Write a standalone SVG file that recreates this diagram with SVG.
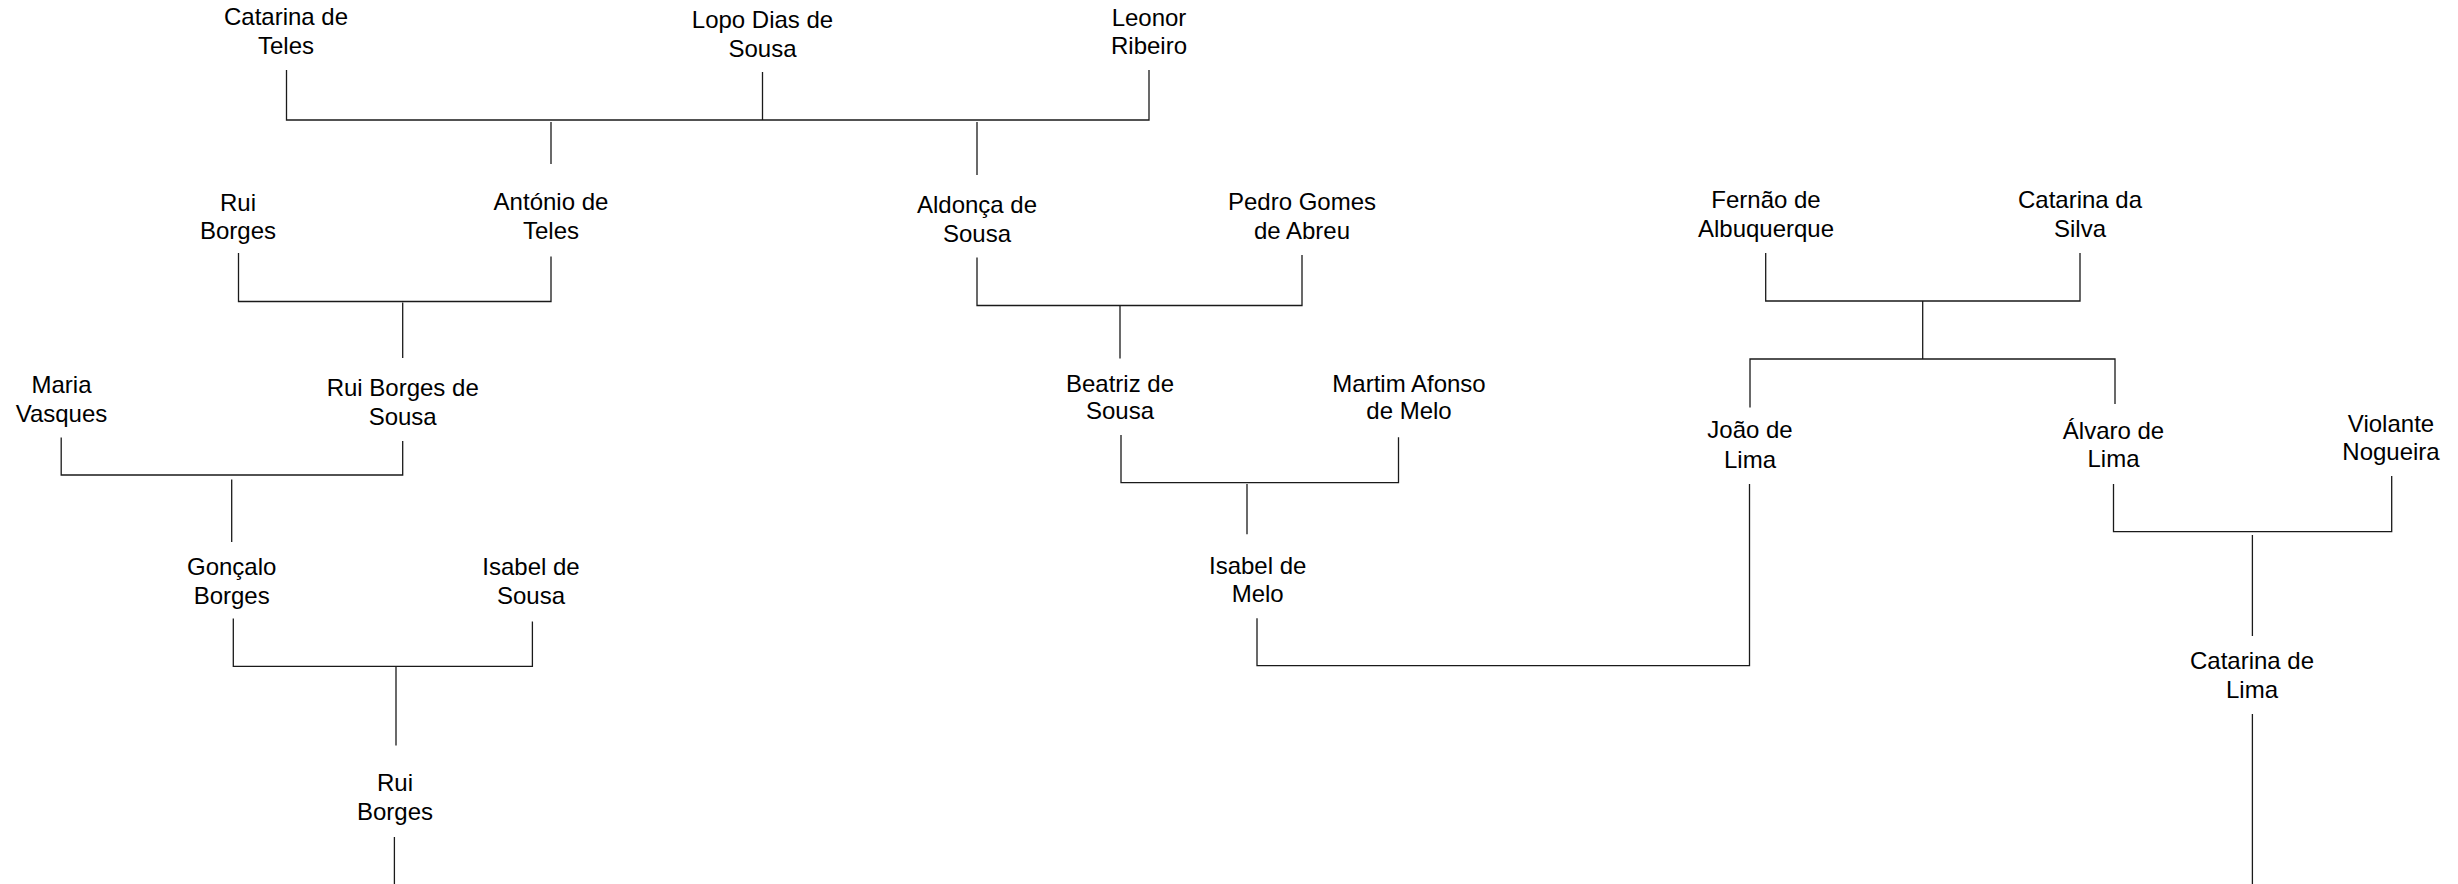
<svg xmlns="http://www.w3.org/2000/svg" width="2458" height="884" viewBox="0 0 2458 884">
<style>
text{font-family:"Liberation Sans",Arial,Helvetica,sans-serif;font-size:24px;fill:#000;text-anchor:middle}
.c path{fill:none;stroke:#1a1a1a;stroke-width:1.3}
</style>
<rect width="2458" height="884" fill="#fff"/>
<g class="c" id="connectors">
<path d="M286.5 70V120H1149V70"/>
<path d="M762.5 72V120"/>
<path d="M551 122V164"/>
<path d="M977 122V175"/>
<path d="M238.5 253V301.5H551V256.5"/>
<path d="M402.7 302.5V358"/>
<path d="M977 257.5V305.5H1302V255"/>
<path d="M1120 306V358.5"/>
<path d="M1765.7 253V301H2080V253"/>
<path d="M1922.7 301V359"/>
<path d="M1750 407.5V359H2115V404"/>
<path d="M61.2 437.5V475H402.7V441"/>
<path d="M231.7 479.5V542"/>
<path d="M1121 435V482.7H1398.5V437.3"/>
<path d="M1247 484V534.3"/>
<path d="M2113.5 484V531.7H2391.7V476"/>
<path d="M2252.4 535V636"/>
<path d="M233.3 618.6V666.4H532.4V621.4"/>
<path d="M396 667V745.5"/>
<path d="M1257 618.3V665.7H1749.5V484"/>
<path d="M2252.4 714V884"/>
<path d="M394.4 837V884"/>
</g>
<g id="n-catarina-teles"><text x="286" y="25">Catarina de</text><text x="286" y="54">Teles</text></g>
<g id="n-lopo"><text x="762.5" y="28">Lopo Dias de</text><text x="762.5" y="57">Sousa</text></g>
<g id="n-leonor"><text x="1149" y="25.5">Leonor</text><text x="1149" y="54">Ribeiro</text></g>
<g id="n-rui-borges-1"><text x="238" y="210.5">Rui</text><text x="238" y="238.5">Borges</text></g>
<g id="n-antonio"><text x="551" y="210">António de</text><text x="551" y="238.5">Teles</text></g>
<g id="n-aldonca"><text x="977" y="213">Aldonça de</text><text x="977" y="241.7">Sousa</text></g>
<g id="n-pedro"><text x="1302" y="210">Pedro Gomes</text><text x="1302" y="238.5">de Abreu</text></g>
<g id="n-fernao"><text x="1766" y="207.7">Fernão de</text><text x="1766" y="236.7">Albuquerque</text></g>
<g id="n-catarina-silva"><text x="2080" y="208">Catarina da</text><text x="2080" y="236.7">Silva</text></g>
<g id="n-maria"><text x="61.5" y="393">Maria</text><text x="61.5" y="421.8">Vasques</text></g>
<g id="n-rui-borges-sousa"><text x="402.7" y="395.5">Rui Borges de</text><text x="402.7" y="425">Sousa</text></g>
<g id="n-beatriz"><text x="1120" y="391.7">Beatriz de</text><text x="1120" y="419">Sousa</text></g>
<g id="n-martim"><text x="1409" y="391.7">Martim Afonso</text><text x="1409" y="419">de Melo</text></g>
<g id="n-joao"><text x="1750" y="438.3">João de</text><text x="1750" y="467.7">Lima</text></g>
<g id="n-alvaro"><text x="2113.5" y="439">Álvaro de</text><text x="2113.5" y="466.7">Lima</text></g>
<g id="n-violante"><text x="2391" y="431.7">Violante</text><text x="2391" y="460">Nogueira</text></g>
<g id="n-goncalo"><text x="231.7" y="574.7">Gonçalo</text><text x="231.7" y="604">Borges</text></g>
<g id="n-isabel-sousa"><text x="531" y="574.7">Isabel de</text><text x="531" y="604">Sousa</text></g>
<g id="n-isabel-melo"><text x="1257.7" y="574">Isabel de</text><text x="1257.7" y="602.3">Melo</text></g>
<g id="n-catarina-lima"><text x="2252" y="669.3">Catarina de</text><text x="2252" y="698.3">Lima</text></g>
<g id="n-rui-borges-2"><text x="395" y="791">Rui</text><text x="395" y="820">Borges</text></g>
</svg>
